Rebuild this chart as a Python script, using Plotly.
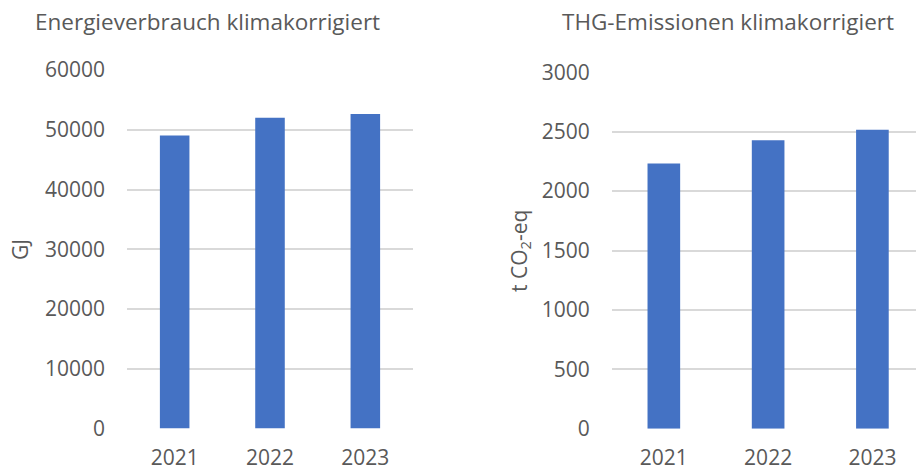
import plotly.graph_objects as go

# Data
years = ["2021", "2022", "2023"]
energy_gj = [49050, 52000, 52650]
ghg_t = [2233, 2427, 2517]

energy_ticks = [0, 10000, 20000, 30000, 40000, 50000, 60000]
ghg_ticks = [0, 500, 1000, 1500, 2000, 2500, 3000]

BAR = "#4472C4"
TXT = "#595959"
GRID = "#D9D9D9"
FONT = "Open Sans"

W, H = 916, 471

fig = go.Figure()
fig.add_trace(go.Bar(x=years, y=energy_gj, marker=dict(color=BAR, line=dict(width=0)),
                     width=0.31, xaxis="x", yaxis="y", hoverinfo="x+y"))
fig.add_trace(go.Bar(x=years, y=ghg_t, marker=dict(color=BAR, line=dict(width=0)),
                     width=0.313, xaxis="x2", yaxis="y2", hoverinfo="x+y"))

axis_font = dict(family=FONT, size=21, color=TXT)

common_x = dict(showgrid=False, showline=False, zeroline=False, ticks="",
                tickfont=axis_font, ticklabelstandoff=14, automargin=False)
common_y = dict(showgrid=True, gridcolor=GRID, gridwidth=1.5, zeroline=False,
                showline=False, ticks="", tickfont=axis_font, ticklabelstandoff=21,
                automargin=False)

fig.update_layout(
    width=W, height=H,
    margin=dict(l=0, r=0, t=0, b=0, pad=0),
    paper_bgcolor="white", plot_bgcolor="white",
    showlegend=False,
    font=dict(family=FONT, color=TXT),
    xaxis=dict(domain=[127 / W, 413 / W], anchor="y", range=[-0.5, 2.5], **common_x),
    yaxis=dict(domain=[1 - 428.5 / H, 1 - 70 / H], anchor="x", range=[0, 60000],
               tickvals=energy_ticks, ticktext=[str(v) for v in energy_ticks], **common_y),
    xaxis2=dict(domain=[611.7 / W, 1.0], anchor="y2", range=[-0.5, 2.418], **common_x),
    yaxis2=dict(domain=[1 - 428.7 / H, 1 - 72.3 / H], anchor="x2", range=[0, 3000],
                tickvals=ghg_ticks, ticktext=[str(v) for v in ghg_ticks], **common_y),
    annotations=[
        dict(text="Energieverbrauch klimakorrigiert", x=207 / W, y=1 - 22 / H,
             xref="paper", yref="paper", showarrow=False, xanchor="center", yanchor="middle",
             font=dict(family=FONT, size=22.5, color=TXT)),
        dict(text="THG-Emissionen klimakorrigiert", x=728 / W, y=1 - 22 / H,
             xref="paper", yref="paper", showarrow=False, xanchor="center", yanchor="middle",
             font=dict(family=FONT, size=22.5, color=TXT)),
        dict(text="GJ", x=20 / W, y=1 - 250 / H, textangle=-90,
             xref="paper", yref="paper", showarrow=False, xanchor="center", yanchor="middle",
             font=dict(family=FONT, size=21, color=TXT)),
        dict(text="t CO<sub>2</sub>-eq", x=520 / W, y=1 - 251 / H, textangle=-90,
             xref="paper", yref="paper", showarrow=False, xanchor="center", yanchor="middle",
             font=dict(family=FONT, size=21, color=TXT)),
    ],
)

fig.write_html("out.html")
